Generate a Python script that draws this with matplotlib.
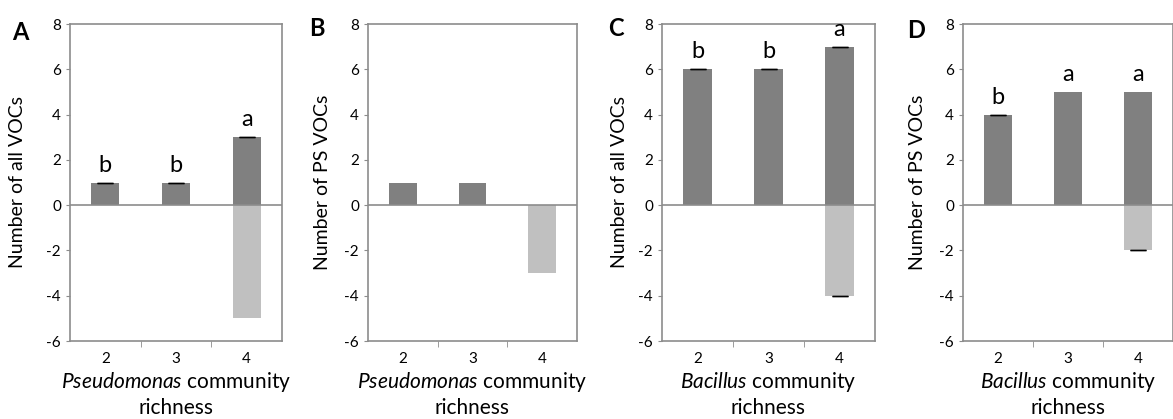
import matplotlib
matplotlib.use("Agg")
import matplotlib.pyplot as plt
import numpy as np

plt.rcParams['font.family'] = ['Lato', 'DejaVu Sans']
plt.rcParams['mathtext.fontset'] = 'custom'
plt.rcParams['mathtext.it'] = 'Lato:italic'
plt.rcParams['mathtext.rm'] = 'Lato'
plt.rcParams['axes.unicode_minus'] = False

# data
richness = ["2", "3", "4"]
panels = ["A", "B", "C", "D"]
ylabels = ["Number of all VOCs", "Number of PS VOCs", "Number of all VOCs", "Number of PS VOCs"]
genus = ["Pseudomonas", "Pseudomonas", "Bacillus", "Bacillus"]
pos_vals = [[1, 1, 3], [1, 1, 0], [6, 6, 7], [4, 5, 5]]
neg_vals = [[0, 0, -5], [0, 0, -3], [0, 0, -4], [0, 0, -2]]
pos_caps = [[1, 1, 1], [0, 0, 0], [1, 1, 1], [1, 0, 0]]
neg_caps = [[0, 0, 0], [0, 0, 0], [0, 0, 1], [0, 0, 1]]
letters = [["b", "b", "a"], None, ["b", "b", "a"], ["b", "a", "a"]]

W, H = 1173, 419
fig = plt.figure(figsize=(W / 100, H / 100), dpi=100)

# axes boxes in pixels: left, right
boxes = [(70, 282), (368, 577), (662, 875), (963, 1173)]
top, bot = 24, 341
ylab_x = [-0.207, -0.177, -0.16, -0.176]
letter_xy = [(20, 32), (317, 28), (616, 28), (916, 30)]

spine_c = "#8c8c8c"
x = np.arange(3)
for i in range(4):
    l, r = boxes[i]
    ax = fig.add_axes([l / W, 1 - bot / H, (r - l) / W, (bot - top) / H])
    ax.bar(x, pos_vals[i], width=0.4, color="#808080")
    ax.bar(x, neg_vals[i], width=0.4, color="#c0c0c0")
    ax.axhline(0, color=spine_c, lw=1.2)
    for j in range(3):
        if pos_caps[i][j]:
            ax.errorbar(x[j], pos_vals[i][j], yerr=0, capsize=6, ecolor="black", capthick=1, elinewidth=0, fmt="none")
        if neg_caps[i][j]:
            ax.errorbar(x[j], neg_vals[i][j], yerr=0, capsize=6, ecolor="black", capthick=1, elinewidth=0, fmt="none")
        if letters[i]:
            ax.text(x[j], pos_vals[i][j] + 0.3, letters[i][j], ha="center", va="bottom", fontsize=17)
    ax.set_xlim(-0.5, 2.5)
    ax.set_ylim(-6, 8)
    ax.set_yticks(range(-6, 9, 2))
    ax.set_xticks(x)
    ax.set_xticklabels(richness)
    ax.set_xticks([0.5, 1.5], minor=True)
    ax.tick_params(axis="x", which="major", length=0, labelsize=11, pad=8)
    ax.tick_params(axis="x", which="minor", length=4, color=spine_c)
    ax.tick_params(axis="y", length=3, color=spine_c, labelsize=11)
    for s in ax.spines.values():
        s.set_color(spine_c)
        s.set_linewidth(1.2)
    ax.set_ylabel(ylabels[i], fontsize=14)
    ax.yaxis.set_label_coords(ylab_x[i], 0.5)
    ax.set_xlabel("$\\mathit{" + genus[i] + "}$ community\nrichness", fontsize=15, linespacing=1.25, labelpad=3)
    fig.text(letter_xy[i][0] / W, 1 - letter_xy[i][1] / H, panels[i], fontsize=17, fontweight="bold", ha="center", va="center")

fig.savefig("out.png", dpi=100)
